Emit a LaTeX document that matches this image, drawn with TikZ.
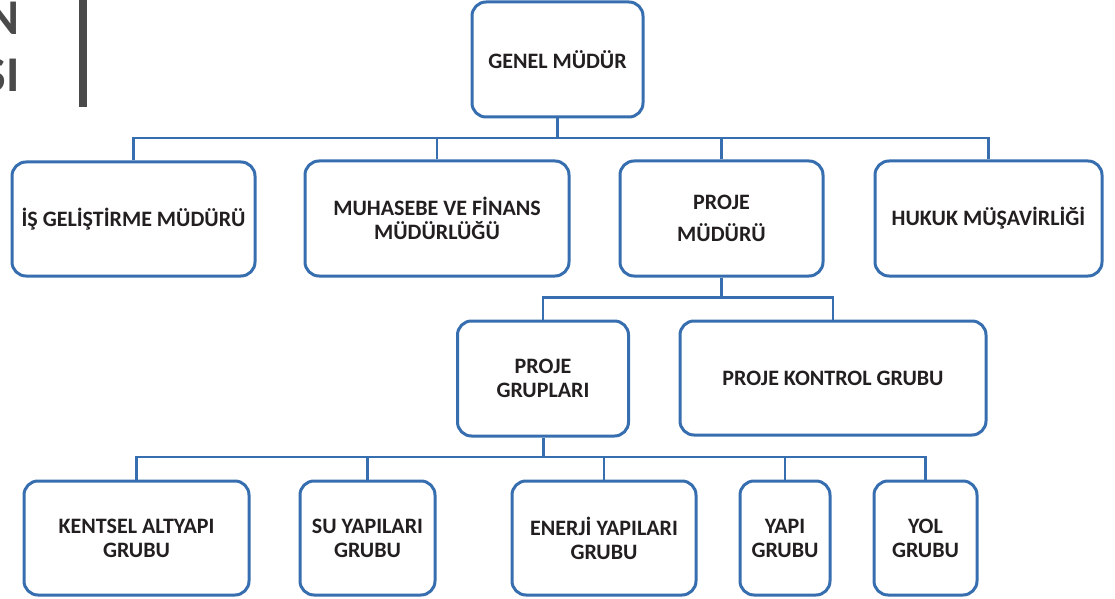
\documentclass[tikz,border=0pt]{standalone}
\usepackage{fontspec}
\setmainfont{Carlito}
\usetikzlibrary{calc}
\definecolor{boxblue}{RGB}{55,110,175}
\definecolor{txtdark}{RGB}{35,31,32}
\definecolor{bargray}{RGB}{74,74,74}
\tikzset{
  box/.style={draw=boxblue,line width=1.5pt,rounded corners=7pt,fill=white,
    align=center,text=txtdark,inner sep=2pt,
    font=\fontsize{11}{12}\selectfont\bfseries},
  link/.style={draw=boxblue,line width=1.1pt},
  stem/.style={draw=boxblue,line width=1.5pt},
}

\begin{document}
\begin{tikzpicture}[x=0.5pt,y=-0.5pt]
           \useasboundingbox (0,0) rectangle (1115,599);
           \clip (0,0) rectangle (1115,599);
           % cut-off heading on the left
           \node[anchor=base east,inner sep=0pt,text=bargray,font=\fontsize{25}{25}\selectfont\bfseries] (hn) at (20,35) {N};
           \node[anchor=base east,inner sep=0pt,text=bargray,font=\fontsize{25}{25}\selectfont\bfseries] (hs) at (20,92) {SI};
           \fill[bargray] (79,-2) rectangle (87,107);
           % level 0 and 1
           \node[box,minimum width=85.5pt,minimum height=57.5pt] (gm) at (557.5,59.5) {GENEL MÜDÜR};
           \node[box,minimum width=121.5pt,minimum height=57pt] (isg) at (133.5,219) {İŞ GELİŞTİRME MÜDÜRÜ};
           \node[box,minimum width=132pt,minimum height=57.5pt] (muh) at (437,218.5) {MUHASEBE VE FİNANS\\MÜDÜRLÜĞÜ};
           \node[box,minimum width=101.5pt,minimum height=57.5pt] (pm) at (721.5,218.5) {PROJE\\[4pt]MÜDÜRÜ};
           \node[box,minimum width=113.5pt,minimum height=57.5pt] (huk) at (988.5,218.5) {HUKUK MÜŞAVİRLİĞİ};
           % level 2
           \node[box,minimum width=85.5pt,minimum height=57.5pt] (pg) at (543,378.5) {PROJE\\GRUPLARI};
           \node[box,minimum width=153pt,minimum height=57pt] (pk) at (833,378) {PROJE KONTROL GRUBU};
           % level 3
           \node[box,minimum width=112.5pt,minimum height=57pt] (ken) at (136.5,538) {KENTSEL ALTYAPI\\GRUBU};
           \node[box,minimum width=67.5pt,minimum height=57pt] (su) at (367.5,538) {SU YAPILARI\\GRUBU};
           \node[box,minimum width=92pt,minimum height=57pt] (ene) at (604,538) {ENERJİ YAPILARI\\GRUBU};
           \node[box,minimum width=45pt,minimum height=57pt] (yapi) at (785,538) {YAPI\\GRUBU};
           \node[box,minimum width=51.5pt,minimum height=57pt] (yol) at (925.5,538) {YOL\\GRUBU};
           % bus points
           \coordinate (b1) at (557.5,138);
           \coordinate (b2) at (721.5,297.5);
           \coordinate (b3) at (543,457);
           % connectors
           \draw[stem] (gm.south) -- (b1);
           \foreach \n in {isg,muh,pm,huk} \draw[link] (\n.north) |- (b1);
           \draw[stem] (pm.south) -- (b2);
           \foreach \n in {pg,pk} \draw[link] (\n.north) |- (b2);
           \draw[stem] (pg.south) -- (b3);
           \foreach \n in {ken,su,ene,yapi,yol} \draw[link] (\n.north) |- (b3);
        \end{tikzpicture}
\end{document}
